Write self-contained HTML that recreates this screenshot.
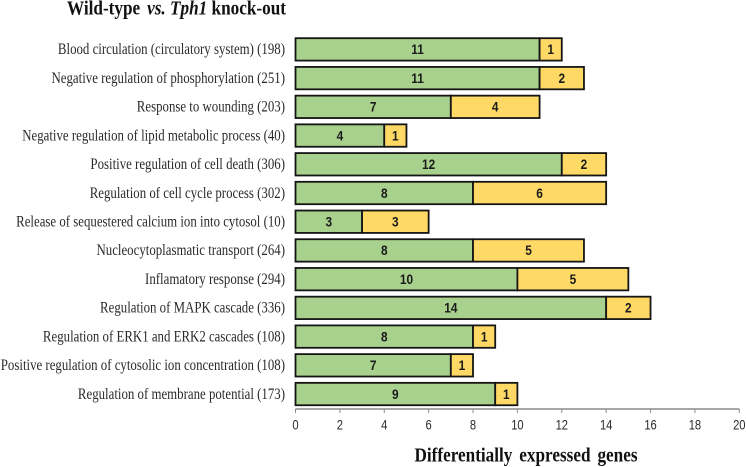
<!DOCTYPE html>
<html><head><meta charset="utf-8"><style>
html,body{margin:0;padding:0;background:#fff;width:746px;height:467px;overflow:hidden}
svg{display:block}
text{font-family:"Liberation Serif",serif}
.s{font-family:"Liberation Sans",sans-serif}
</style></head><body>
<svg id="chart" width="746" height="467" viewBox="0 0 746 467" xmlns="http://www.w3.org/2000/svg"></svg>
<script>
const categories = ["Blood circulation (circulatory system) (198)","Negative regulation of phosphorylation (251)","Response to wounding (203)","Negative regulation of lipid metabolic process (40)","Positive regulation of cell death (306)","Regulation of cell cycle process (302)","Release of sequestered calcium ion into cytosol (10)","Nucleocytoplasmatic transport (264)","Inflamatory response (294)","Regulation of MAPK cascade (336)","Regulation of ERK1 and ERK2 cascades (108)","Positive regulation of cytosolic ion concentration (108)","Regulation of membrane potential (173)"];
const greenValues = [11,11,7,4,12,8,3,8,10,14,8,7,9];
const yellowValues = [1,2,4,1,2,6,3,5,5,2,1,1,1];
const xTicks = [0,2,4,6,8,10,12,14,16,18,20];
const svg = document.getElementById('chart');
const NS = 'http://www.w3.org/2000/svg';
const X0 = 295.5, X1 = 739.3, AXIS_Y = 409, TOP = 38.2, PITCH = 28.72, BAR_H = 22.4;
function xScale(v){ return X0 + v / 20 * (X1 - X0); }
function yScale(i){ return TOP + i * PITCH; }
function add(tag, attrs, text){
  const el = document.createElementNS(NS, tag);
  for (const k in attrs) el.setAttribute(k, attrs[k]);
  if (text !== undefined) el.textContent = text;
  svg.appendChild(el);
  return el;
}
function addBar(x0, x1, y, fill, label){
  const r = add('rect', {x:x0, y:y, width:x1-x0, height:BAR_H, fill:fill, stroke:'#151515', 'stroke-width':1.8});
  
  
  const t = add('text', {transform:'translate('+((x0+x1)/2)+','+(y+BAR_H/2+4.8)+') scale(0.88,1)', 'text-anchor':'middle', 'font-size':13.5, 'font-weight':'bold', fill:'#1a1a1a', class:'s'}, label);
  
  
}
categories.forEach(function(c, i){
  const y = yScale(i);
  const t = add('text', {transform:'translate(285,'+(y+BAR_H/2+4.8)+') scale(0.83,1)', 'text-anchor':'end', 'font-size':15.5, fill:'#2a2a2a'}, c);
  
  
  addBar(xScale(0), xScale(greenValues[i]), y, '#A9D18E', greenValues[i]);
  addBar(xScale(greenValues[i]), xScale(greenValues[i]+yellowValues[i]), y, '#FFD966', yellowValues[i]);
});
const axis = add('line', {x1:X0, x2:X1, y1:AXIS_Y, y2:AXIS_Y, stroke:'#8c8c8c', 'stroke-width':1.5});


xTicks.forEach(function(v){
  const x = xScale(v);
  const tick = add('line', {x1:x, x2:x, y1:AXIS_Y, y2:AXIS_Y+4, stroke:'#8c8c8c', 'stroke-width':1});
  
  
  const t = add('text', {transform:'translate('+x+',429.5) scale(0.8,1)', 'text-anchor':'middle', 'font-size':14, fill:'#2a2a2a', class:'s'}, v);
  
  
});
const xt = add('text', {x:526, y:461.5, 'text-anchor':'middle', 'font-size':19.5, 'font-weight':'bold', fill:'#111', 'word-spacing':3, textLength:223, lengthAdjust:'spacingAndGlyphs'}, 'Differentially expressed genes');


const title = add('text', {x:67, y:14.5, 'font-size':19.5, 'font-weight':'bold', fill:'#111', textLength:219, lengthAdjust:'spacingAndGlyphs'});


title.innerHTML = 'Wild-type <tspan font-style="italic" dx="3">vs.</tspan> <tspan font-style="italic">Tph1</tspan> knock-out';
</script>
</body></html>
